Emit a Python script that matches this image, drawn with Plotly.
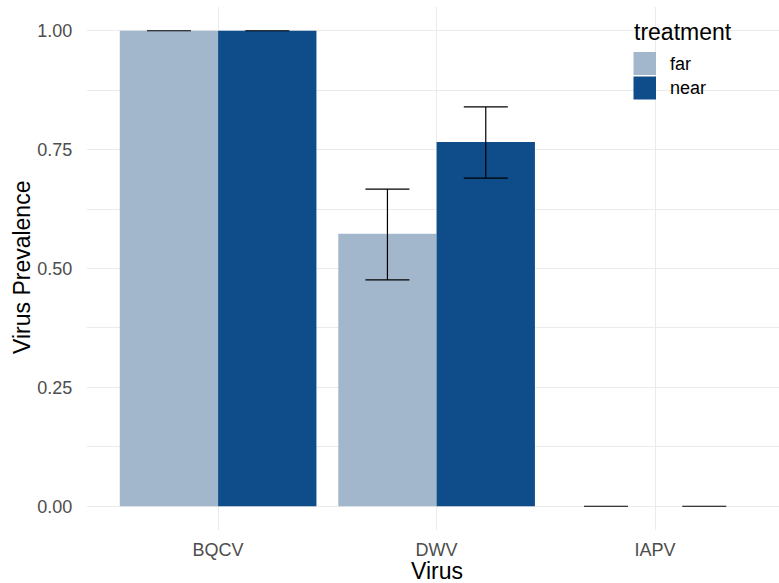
import plotly.graph_objects as go

viruses = ["BQCV", "DWV", "IAPV"]
treatments = ["far", "near"]
far_mean = [1.0, 0.573, 0.0]
far_lo = [1.0, 0.476, 0.0]
far_hi = [1.0, 0.667, 0.0]
near_mean = [1.0, 0.766, 0.0]
near_lo = [1.0, 0.690, 0.0]
near_hi = [1.0, 0.840, 0.0]
colors = {"far": "#a2b6cc", "near": "#0f4c8a"}

W, H = 779, 583
L, R, T, B = 87, 0, 7, 53
pw, ph = W - L - R, H - T - B

def px(x):
    return (x - L) / pw

def py(y):
    return 1 - (y - T) / ph

FONT = "Liberation Sans, Arial, sans-serif"

fig = go.Figure()
for name, m, lo, hi in [("far", far_mean, far_lo, far_hi), ("near", near_mean, near_lo, near_hi)]:
    fig.add_trace(go.Bar(
        x=viruses, y=m, name=name, marker=dict(color=colors[name], line=dict(width=0)),
        error_y=dict(type="data", symmetric=False,
                     array=[h - v for h, v in zip(hi, m)],
                     arrayminus=[v - l for v, l in zip(m, lo)],
                     color="black", thickness=1.2, width=22),
        showlegend=False, hoverinfo="skip",
    ))

fig.update_layout(
    width=W, height=H, margin=dict(l=L, r=R, t=T, b=B, pad=0),
    paper_bgcolor="white", plot_bgcolor="white",
    barmode="group", bargap=0.1, bargroupgap=0,
    font=dict(family=FONT),
    xaxis=dict(range=[-0.6, 2.567], showgrid=True, gridcolor="#ebebeb", gridwidth=1.4,
               zeroline=False, showline=False,
               ticks="outside", ticklen=3, tickcolor="rgba(0,0,0,0)",
               tickfont=dict(size=18, color="#4d4d4d", family=FONT)),
    yaxis=dict(range=[-0.05, 1.05], tickvals=[0, 0.25, 0.5, 0.75, 1.0],
               ticktext=["0.00", "0.25", "0.50", "0.75", "1.00"],
               showgrid=True, gridcolor="#ebebeb", gridwidth=1.4,
               minor=dict(tickvals=[0.125, 0.375, 0.625, 0.875], showgrid=True,
                          gridcolor="#ebebeb", gridwidth=0.7),
               zeroline=False, showline=False,
               ticks="outside", ticklen=10, tickcolor="rgba(0,0,0,0)",
               tickfont=dict(size=18, color="#4d4d4d", family=FONT)),
)

ann = [
    dict(text="Virus", x=px(437), y=py(571), xref="paper", yref="paper",
         showarrow=False, font=dict(size=23, color="black", family=FONT),
         xanchor="center", yanchor="middle"),
    dict(text="Virus Prevalence", x=px(22), y=py(268), xref="paper", yref="paper",
         showarrow=False, font=dict(size=23, color="black", family=FONT), textangle=-90,
         xanchor="center", yanchor="middle"),
    dict(text="treatment", x=px(632), y=py(32), xref="paper", yref="paper",
         showarrow=False, font=dict(size=23, color="black", family=FONT),
         xanchor="left", yanchor="middle"),
]
shapes = []
key_rows = [(52, 75), (76.5, 99.5)]
for (y0, y1), t in zip(key_rows, treatments):
    shapes.append(dict(type="rect", xref="paper", yref="paper",
                       x0=px(633.5), x1=px(656), y0=py(y1), y1=py(y0),
                       fillcolor=colors[t], line=dict(width=0), layer="above"))
    ann.append(dict(text=t, x=px(668), y=py((y0 + y1) / 2), xref="paper", yref="paper",
                    showarrow=False, font=dict(size=18, color="black", family=FONT),
                    xanchor="left", yanchor="middle"))
fig.update_layout(annotations=ann, shapes=shapes)

fig.write_html("out.html", config={"displayModeBar": False},
               post_script="document.body.style.margin='0';document.body.style.overflow='hidden';")
